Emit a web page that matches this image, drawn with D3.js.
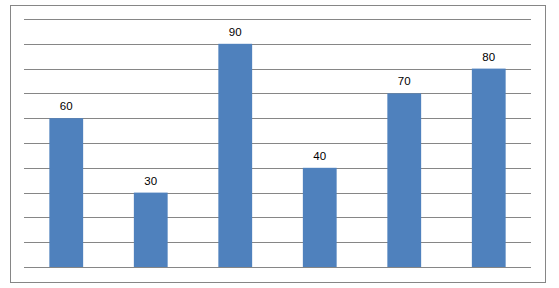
<!DOCTYPE html>
<html>
<head>
<meta charset="utf-8">
<script src="https://cdn.jsdelivr.net/npm/d3@7"></script>
<style>
  body { margin: 0; background: #fff; }
</style>
</head>
<body>
<script>
var categories = ["A", "B", "C", "D", "E", "F"];
var values = [60, 30, 90, 40, 70, 80];
var gridTicks = [0, 10, 20, 30, 40, 50, 60, 70, 80, 90, 100];

var width = 559, height = 288;
var margin = {top: 19, right: 28, bottom: 21, left: 24};

var svg = d3.select("body").append("svg")
  .attr("width", width)
  .attr("height", height);

// outer border
svg.append("rect")
  .attr("x", 10.5).attr("y", 5.5)
  .attr("width", 535).attr("height", 277)
  .attr("fill", "#fff")
  .attr("stroke", "#868686")
  .attr("stroke-width", 1);

var x = d3.scaleBand()
  .domain(categories)
  .range([margin.left, width - margin.right])
  .paddingInner(0.6)
  .paddingOuter(0.3);

var y = d3.scaleLinear()
  .domain([0, 100])
  .range([height - margin.bottom, margin.top]);

// gridlines
svg.append("g").selectAll("line")
  .data(gridTicks)
  .enter().append("line")
  .attr("x1", margin.left)
  .attr("x2", width - margin.right)
  .attr("y1", function(d) { return Math.round(y(d)) + 0.5; })
  .attr("y2", function(d) { return Math.round(y(d)) + 0.5; })
  .attr("stroke", "#868686")
  .attr("stroke-width", 1);

// bars
svg.append("g").selectAll("rect")
  .data(values)
  .enter().append("rect")
  .attr("x", function(d, i) { return x(categories[i]); })
  .attr("y", function(d) { return y(d); })
  .attr("width", x.bandwidth())
  .attr("height", function(d) { return y(0) - y(d); })
  .attr("fill", "#4F81BD");

// value labels
svg.append("g").selectAll("text")
  .data(values)
  .enter().append("text")
  .attr("x", function(d, i) { return x(categories[i]) + x.bandwidth() / 2; })
  .attr("y", function(d) { return y(d) - 8; })
  .attr("text-anchor", "middle")
  .attr("font-family", "Liberation Sans, Arial, sans-serif")
  .attr("font-size", "11.5px")
  .attr("fill", "#000")
  .text(function(d) { return d; });
</script>
</body>
</html>
